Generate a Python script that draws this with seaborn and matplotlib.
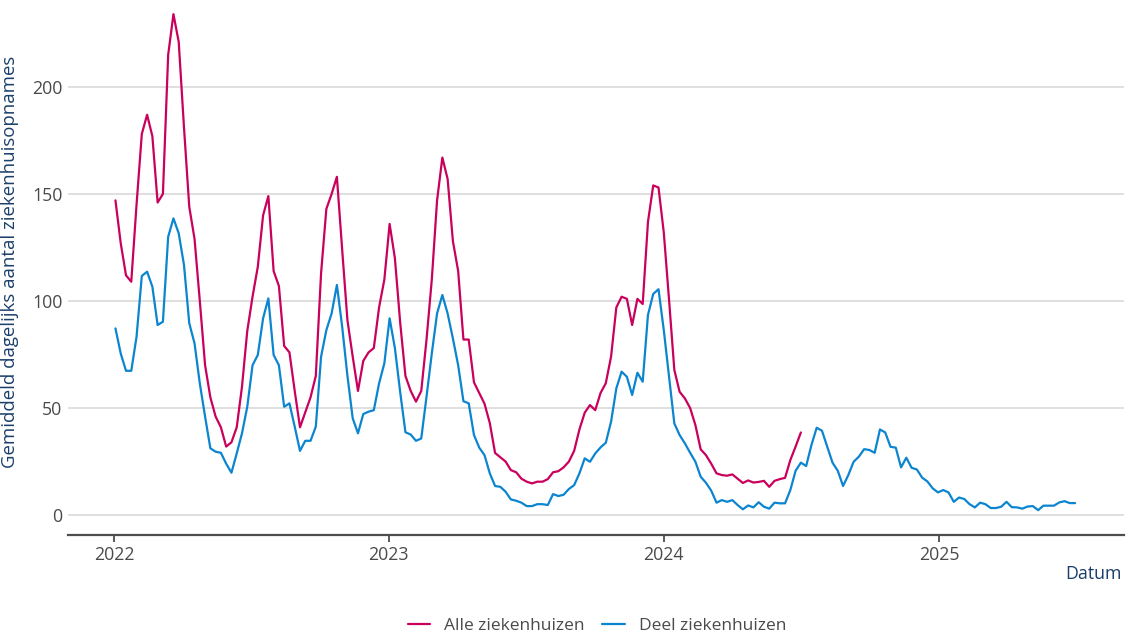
import matplotlib

matplotlib.use("Agg")
import matplotlib.dates as mdates
import matplotlib.pyplot as plt
import numpy as np
import pandas as pd
import seaborn as sns

START = "2022-01-03"

# weekly values
alle_ziekenhuizen = [
    147, 127, 112, 109, 145, 178, 187, 177, 146, 150, 215, 234, 221, 181, 144, 129,
    100, 70, 55, 46, 41, 32, 34, 41, 60, 86, 102, 116, 140, 149, 114, 107,
    79, 76, 58, 41, 48, 55, 65, 113, 143, 150, 158, 124, 91, 74, 58, 72,
    76, 78, 97, 110, 136, 120, 90, 65, 58, 53, 58, 82, 110, 147, 167, 157,
    128, 114, 82, 82, 62, 57, 52, 43, 29, 27, 25, 21, 20, 17, 15.6, 14.8,
    15.6, 15.6, 16.8, 20, 20.5, 22.3, 25, 30, 40, 47.8, 51.4, 49, 57, 61.6, 74, 97,
    102, 101, 88.8, 101, 98.6, 137, 154, 153, 132, 100.5, 67.8, 57.6, 54.5, 50, 42, 30.7,
    28, 24, 19.5, 18.7, 18.4, 19, 17, 15, 16.2, 15.2, 15.5, 16, 13.2, 16, 16.8, 17.4,
    25.7, 32, 38.6,
]

deel_ziekenhuizen = [
    87.2, 75.5, 67.4, 67.4, 83.3, 111.7, 113.7, 106.7, 88.8, 90.3, 130, 138.6, 131.6, 116.8, 89.6, 80.2,
    61.5, 46, 31.2, 29.6, 29.1, 24, 19.8, 28.8, 38.2, 50.6, 70, 74.8, 91.9, 101.2, 74.8, 70,
    50.6, 52.2, 41.3, 30, 34.7, 34.7, 41.3, 74, 86.4, 94.2, 107.5, 88, 65, 45.2, 38.2, 47.2,
    48.3, 49, 61.5, 70.9, 91.9, 78, 57.5, 38.7, 37.6, 34.7, 35.8, 55.3, 75.5, 94.2, 102.8, 94.2,
    82.5, 70, 53.2, 52.2, 37.4, 31.5, 28, 19.5, 13.6, 13.2, 10.9, 7.3, 6.7, 5.8, 4.2, 4.2,
    5.1, 5.1, 4.7, 9.8, 8.9, 9.5, 12.2, 14, 19.5, 26.5, 24.9, 28.8, 31.6, 33.8, 43.6, 59.2,
    67, 64.6, 56.1, 66.5, 62.3, 93.5, 103.3, 105.5, 86.4, 64.6, 42.8, 37.4, 33.5, 29.1, 24.9, 17.9,
    15.1, 11.4, 5.8, 7.0, 6.2, 7.0, 4.7, 2.7, 4.5, 3.6, 6.0, 3.9, 3.0, 5.8, 5.5, 5.5,
    11.7, 20.7, 24.5, 22.9, 32.7, 40.8, 39.4, 31.9, 24.5, 20.7, 13.6, 18.7, 24.9, 27.3, 30.8, 30.4,
    29.1, 40, 38.6, 31.9, 31.5, 22.3, 26.8, 22.1, 21.3, 17.5, 15.7, 12.5, 10.6, 11.7, 10.6, 6.2,
    8.2, 7.5, 5.1, 3.6, 5.8, 5.1, 3.3, 3.3, 3.9, 6.2, 3.7, 3.6, 3.0, 4.0, 4.2, 2.3,
    4.4, 4.4, 4.4, 5.9, 6.5, 5.6, 5.6,
]

series_names = ["Alle ziekenhuizen", "Deel ziekenhuizen"]
series_colors = ["#CA005D", "#0B85D0"]
y_ticks = [0, 50, 100, 150, 200]

TEXT_BLUE = "#1B3F6B"
TICK_GREY = "#4A4A4A"


def build_frame():
    frames = []
    for name, values in zip(series_names, [alle_ziekenhuizen, deel_ziekenhuizen]):
        dates = pd.date_range(START, periods=len(values), freq="7D")
        frames.append(pd.DataFrame({"Datum": dates, "opnames": values, "reeks": name}))
    return pd.concat(frames, ignore_index=True)


def plot():
    sns.set_style("white")
    plt.rcParams["font.family"] = ["Open Sans", "DejaVu Sans"]

    df = build_frame()

    fig = plt.figure(figsize=(11.28, 6.34), dpi=100)
    ax = fig.add_axes([68 / 1128, 1 - 535 / 634, 1056 / 1128, 535 / 634])

    sns.lineplot(
        data=df,
        x="Datum",
        y="opnames",
        hue="reeks",
        hue_order=series_names,
        palette=series_colors,
        linewidth=1.6,
        ax=ax,
    )

    ax.set_xlim(pd.Timestamp("2021-11-01"), pd.Timestamp("2025-09-03"))
    ax.set_ylim(-9.3, 240.6)
    ax.set_yticks(y_ticks)
    ax.yaxis.grid(True, color="#D6D6D6", linewidth=1.1)
    ax.xaxis.grid(False)

    ax.xaxis.set_major_locator(mdates.YearLocator())
    ax.xaxis.set_major_formatter(mdates.DateFormatter("%Y"))

    for side in ["top", "right", "left"]:
        ax.spines[side].set_visible(False)
    ax.spines["bottom"].set_color("#4D4D4D")
    ax.spines["bottom"].set_linewidth(1.6)

    ax.tick_params(axis="y", length=0, pad=4, labelsize=12.8, labelcolor=TICK_GREY)
    ax.tick_params(axis="x", length=5, width=1.3, color="#4D4D4D", pad=3,
                   labelsize=12.8, labelcolor=TICK_GREY, direction="out", bottom=True)

    ax.set_ylabel("Gemiddeld dagelijks aantal ziekenhuisopnames", fontsize=13.4, color=TEXT_BLUE)
    ax.yaxis.set_label_coords(-0.046, 0.51)
    ax.set_xlabel("Datum", fontsize=12.8, color=TEXT_BLUE, loc="right")
    ax.xaxis.set_label_coords(0.998, -0.056)

    handles, labels = ax.get_legend_handles_labels()
    ax.get_legend().remove()
    fig.legend(
        handles,
        labels,
        loc="center",
        bbox_to_anchor=(597 / 1128, 1 - 626 / 634),
        ncol=2,
        frameon=False,
        fontsize=12.5,
        labelcolor=TICK_GREY,
        handlelength=1.3,
        handletextpad=0.8,
        columnspacing=1.0,
    )

    fig.savefig("out.png", dpi=100)


if __name__ == "__main__":
    plot()
